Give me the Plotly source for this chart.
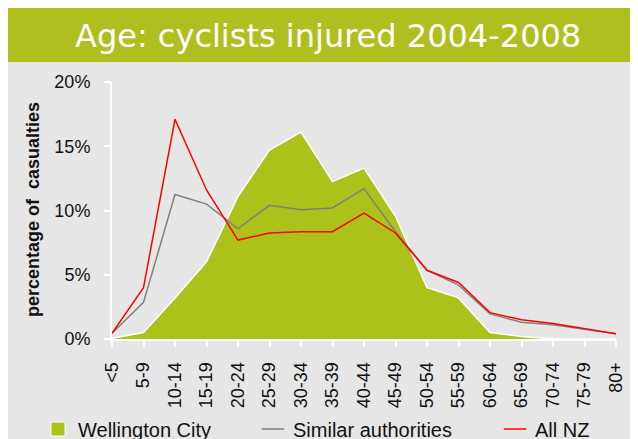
# Age profile of injured cyclists, 2004-2008
import plotly.graph_objects as go

AGE_GROUPS = ["<5", "5-9", "10-14", "15-19", "20-24", "25-29", "30-34", "35-39",
              "40-44", "45-49", "50-54", "55-59", "60-64", "65-69", "70-74",
              "75-79", "80+"]

# percentage of casualties in each age group
WELLINGTON = [0.05, 0.5, 3.2, 6.0, 11.1, 14.7, 16.1, 12.25, 13.3, 9.55,
              4.0, 3.2, 0.5, 0.2, 0.0, 0.0, 0.0]
SIMILAR = [0.45, 2.85, 11.25, 10.5, 8.6, 10.4, 10.05, 10.2, 11.7, 8.35,
           5.35, 4.2, 1.95, 1.3, 1.1, 0.75, 0.4]
ALL_NZ = [0.45, 4.0, 17.1, 11.6, 7.7, 8.25, 8.35, 8.35, 9.8, 8.25,
          5.35, 4.4, 2.05, 1.5, 1.2, 0.8, 0.4]

Y_TICKS = [0, 5, 10, 15, 20]
Y_TICK_LABELS = ["0%", "5%", "10%", "15%", "20%"]

GREEN = "#acc21a"
HEADER = "#afbf1f"
PANEL = "#e6e6e6"
GREY = "#808080"
RED = "#ff0000"
FONT = "Liberation Sans, Arial, sans-serif"

fig = go.Figure()

# main series (legend entries are drawn by the dummy traces further down)
fig.add_trace(go.Scatter(x=AGE_GROUPS, y=WELLINGTON, mode="lines", fill="tozeroy",
                         fillcolor=GREEN, line=dict(color="white", width=1.5),
                         showlegend=False))
fig.add_trace(go.Scatter(x=AGE_GROUPS, y=SIMILAR, mode="lines",
                         line=dict(color=GREY, width=1.5), showlegend=False))
fig.add_trace(go.Scatter(x=AGE_GROUPS, y=ALL_NZ, mode="lines",
                         line=dict(color=RED, width=1.5), showlegend=False))

# legend-only traces so the symbols look like the original (square + short dashes)
fig.add_trace(go.Scatter(x=[None], y=[None], mode="markers", name="Wellington City",
                         marker=dict(symbol="square", size=14, color=GREEN,
                                     line=dict(color="white", width=1)),
                         legend="legend"))
fig.add_trace(go.Scatter(x=[None], y=[None], mode="markers", name="Similar authorities",
                         marker=dict(symbol="line-ew", size=16,
                                     line=dict(color=GREY, width=1.5)),
                         legend="legend2"))
fig.add_trace(go.Scatter(x=[None], y=[None], mode="markers", name="All NZ",
                         marker=dict(symbol="line-ew", size=16,
                                     line=dict(color=RED, width=1.5)),
                         legend="legend3"))

# the page body has an 8px margin, so the figure starts at (8, 8) of the window;
# plot area spans x 112..616 px and y 82..339 px in window pixels
PW, PH = 504, 257
def px_x(p):
    return (p - 112) / PW
def px_y(p):
    return (339 - p) / PH

legend_common = dict(orientation="h", xanchor="left", yanchor="middle",
                     y=px_y(429), bgcolor="rgba(0,0,0,0)",
                     font=dict(family=FONT, size=20, color="#111111"))

fig.update_layout(
    width=630,
    height=431,
    margin=dict(l=104, r=22, t=74, b=100, autoexpand=False),  # keep legends from pushing the plot
    paper_bgcolor=PANEL,
    plot_bgcolor=PANEL,
    font=dict(family=FONT, color="#111111"),
    legend=dict(x=px_x(38), **legend_common),
    legend2=dict(x=px_x(253), **legend_common),
    legend3=dict(x=px_x(495), **legend_common),
    shapes=[
        # green title band
        dict(type="rect", xref="paper", yref="paper", layer="below",
             x0=px_x(6), x1=px_x(640), y0=px_y(62), y1=px_y(7),
             fillcolor=HEADER, line=dict(width=0)),
    ],
    annotations=[
        dict(text="Age: cyclists injured 2004-2008", xref="paper", yref="paper",
             x=px_x(328), y=px_y(36), xanchor="center", yanchor="middle",
             showarrow=False,
             font=dict(family="DejaVu Sans, Verdana, sans-serif", size=32, color="white")),
        dict(text="percentage of\u00a0 casualties", xref="paper", yref="paper",
             x=px_x(33), y=px_y(210), xanchor="center", yanchor="middle",
             textangle=-90, showarrow=False,
             font=dict(family=FONT, size=18, color="#111111", weight="bold")),
    ],
)

fig.update_xaxes(
    type="category",
    range=[0, len(AGE_GROUPS) - 1],
    showgrid=False,
    zeroline=False,
    showline=True,
    linecolor="white",
    linewidth=2,
    ticks="outside",
    ticklen=6,
    tickwidth=2,
    tickcolor="white",
    tickangle=-90,
    ticklabelstandoff=8,
    tickfont=dict(size=18),
)
fig.update_yaxes(
    range=[0, 20],
    tickmode="array",
    tickvals=Y_TICKS,
    ticktext=Y_TICK_LABELS,
    showgrid=False,
    zeroline=False,
    showline=True,
    linecolor="white",
    linewidth=2,
    ticks="outside",
    ticklen=6,
    tickwidth=2,
    tickcolor="white",
    ticklabelstandoff=10,
    tickfont=dict(size=18),
)

fig.write_html("out.html")
